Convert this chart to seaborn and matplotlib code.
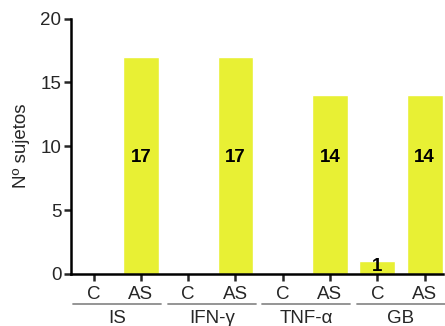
import pandas as pd
import matplotlib
matplotlib.use("Agg")
import matplotlib.pyplot as plt
import seaborn as sns

# data
groups = ["IS", "IFN-γ", "TNF-α", "GB"]
subgroups = ["C", "AS"]
counts_c = [0, 0, 0, 1]
counts_as = [17, 17, 14, 14]
yticks = [0, 5, 10, 15, 20]

rows = []
for g, c, a in zip(groups, counts_c, counts_as):
    rows.append({"key": g + " C", "group": g, "sub": "C", "n": c})
    rows.append({"key": g + " AS", "group": g, "sub": "AS", "n": a})
df = pd.DataFrame(rows)

sns.set_style("ticks")
plt.rcParams["font.family"] = ["Liberation Sans", "DejaVu Sans"]

bar_color = "#e8f034"
fs = 13.5

fig = plt.figure(figsize=(4.45, 3.26), dpi=100)
ax = fig.add_axes([71 / 445, 52 / 326, 372 / 445, 255.5 / 326])

sns.barplot(data=df, x="key", y="n", order=df["key"], color=bar_color,
            width=0.76, saturation=1, ax=ax)

ax.set_xlim(-0.48, 7.39)
ax.set_ylim(0, 20)
ax.set_yticks(yticks)
ax.set_xticks(range(len(df)))
ax.set_xticklabels(df["sub"], fontsize=fs)
ax.tick_params(axis="y", labelsize=fs, length=5, width=1.8, pad=2)
ax.tick_params(axis="x", length=5, width=1.8, pad=3.5)
ax.set_xlabel("")
ax.set_ylabel("Nº sujetos", fontsize=fs)
ax.yaxis.set_label_coords(-0.11, 0.5)
sns.despine(ax=ax)
for side in ["left", "bottom"]:
    ax.spines[side].set_linewidth(1.8)
    ax.spines[side].set_color("black")

# value labels on bars
for i, v in enumerate(df["n"]):
    if v <= 0:
        continue
    ypos = 9.1 if v > 9 else v * 0.55
    ax.text(i, ypos, str(v), ha="center", va="center", fontsize=fs,
            fontweight="bold", color="black")

# group underlines and names
trans = ax.get_xaxis_transform()
for k, g in enumerate(groups):
    x0 = 2 * k - 0.43
    x1 = 2 * k + 1 + 0.43
    ax.plot([x0, x1], [-0.116, -0.116], color="#8c8c8c", lw=1.3,
            transform=trans, clip_on=False)
    ax.text(2 * k + 0.5, -0.175, g, transform=trans, ha="center",
            va="center", fontsize=fs)

fig.savefig("out.png", dpi=100)
